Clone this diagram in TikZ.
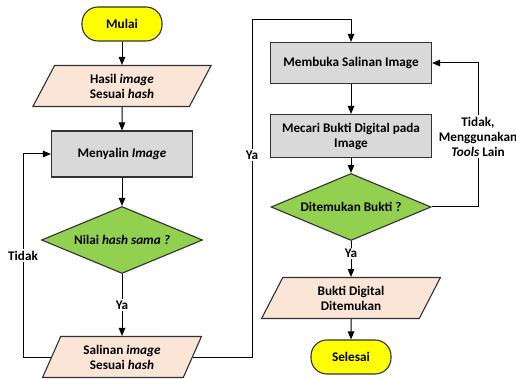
\documentclass[tikz,border=0pt]{standalone}
\usepackage{fontspec}
\setmainfont{Carlito}
\definecolor{fcyellow}{RGB}{255,255,0}
\definecolor{fcpeach}{RGB}{251,229,214}
\definecolor{fcgray}{RGB}{217,217,217}
\definecolor{fcgreen}{RGB}{146,208,80}
\definecolor{fcline}{RGB}{50,50,50}
\usetikzlibrary{arrows.meta,positioning,shapes.geometric,calc}

\begin{document}
\begin{tikzpicture}[
  x=1pt, y=-1pt,
  every node/.style={font=\fontsize{13.2}{15}\selectfont\bfseries, text=black},
  terminal/.style={
    rectangle, rounded corners=16pt,
    draw=fcline, line width=1.1pt, fill=fcyellow,
    minimum width=80pt, minimum height=34pt
  },
  io/.style={
    trapezium, trapezium left angle=68, trapezium right angle=112,
    trapezium stretches=true,
    draw=fcline, line width=1.1pt, fill=fcpeach,
    minimum width=179pt, minimum height=41pt,
    align=center, inner sep=1pt
  },
  proses/.style={
    rectangle, draw=fcline, line width=1.1pt, fill=fcgray,
    minimum width=161pt, minimum height=43pt,
    align=center
  },
  cek/.style={
    diamond, draw=fcline, line width=1.1pt, fill=fcgreen,
    minimum width=161pt, minimum height=67pt,
    inner sep=0pt, aspect=2.4
  },
  alur/.style={-{Triangle[length=8pt,width=6.5pt]}, line width=1pt, draw=black},
  ket/.style={fill=white, inner sep=1.5pt, align=center}
]
\useasboundingbox (0,0) rectangle (516,379);

% Left column
\node[terminal] (mulai) at (122,24) {Mulai};
\node[io] (hasil) at (122,86) {Hasil \textit{image}\\Sesuai \textit{hash}};
\node[proses, minimum width=141pt, minimum height=46pt] (salin) at (122,154) {Menyalin \textit{Image}};
\node[cek] (nilai) at (122,240) {Nilai \textit{hash sama ?}};
\node[io, minimum width=159pt, trapezium left angle=66, trapezium right angle=114] (salinan) at (122,357) {Salinan \textit{image}\\Sesuai \textit{hash}};

% Right column
\node[proses, minimum height=41pt] (buka) at (351,63) {Membuka Salinan Image};
\node[proses] (cari) at (351,136) {Mecari Bukti Digital pada\\Image};
\node[cek, minimum width=160pt] (temu) at (351,207) {Ditemukan Bukti ?};
\node[io] (bukti) at (351,298) {Bukti Digital\\Ditemukan};
\node[terminal] (selesai) at (351,357) {Selesai};

% Helper corners for the loops
\coordinate (kiri) at (23,154);
\coordinate (atas) at (252,20);
\coordinate (balik) at (478,63);

\draw[alur] (mulai) -- (hasil);
\draw[alur] (hasil) -- (salin);
\draw[alur] (salin) -- (nilai);
\draw[alur] (nilai) -- node[ket] {Ya} (salinan);
\draw[alur] (salinan.west) -| (kiri) node[ket, pos=0.75] {Tidak} -- (salin.west);
\draw[alur] (salinan.east) -| (atas) node[ket, pos=0.8] {Ya} -| (buka.north);

\draw[alur] (buka) -- (cari);
\draw[alur] (cari) -- (temu);
\draw[alur] (temu) -- node[ket, pos=0.35] {Ya} (bukti);
\draw[alur] (bukti) -- (selesai);
\draw[alur] (temu.east) -| (balik)
  node[ket, pos=0.745] {Tidak,\\Menggunakan\\\textit{Tools} Lain} -- (buka.east);
\end{tikzpicture}
\end{document}
